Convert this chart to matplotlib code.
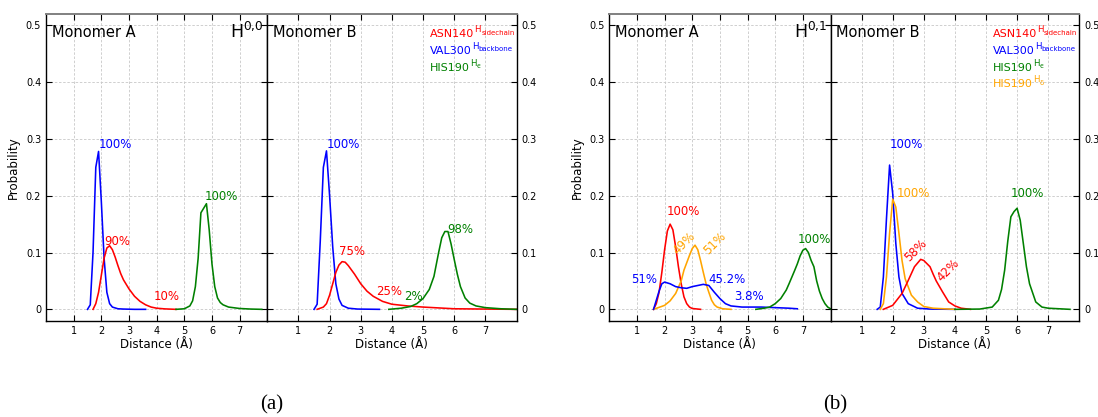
import matplotlib
matplotlib.use("Agg")
import matplotlib.pyplot as plt

# ---------------- data ----------------
# Panel (a) H^{0,0}, Monomer A
a_A_blue_x = [1.5, 1.6, 1.7, 1.8, 1.9, 2.0, 2.1, 2.2, 2.3, 2.4, 2.6, 2.8, 3.2, 3.6]
a_A_blue_y = [0.0, 0.008, 0.10, 0.25, 0.278, 0.19, 0.09, 0.03, 0.01, 0.004, 0.001, 0.0005, 0.0, 0.0]
a_A_red_x = [1.7, 1.8, 1.9, 2.0, 2.1, 2.2, 2.3, 2.4, 2.5, 2.6, 2.7, 2.8, 3.0, 3.2, 3.4, 3.6, 3.8, 4.0, 4.3, 4.7]
a_A_red_y = [0.0, 0.01, 0.03, 0.06, 0.09, 0.108, 0.112, 0.105, 0.092, 0.077, 0.063, 0.052, 0.036, 0.023, 0.014, 0.008, 0.004, 0.002, 0.0008, 0.0]
a_A_green_x = [4.7, 5.0, 5.2, 5.3, 5.4, 5.5, 5.6, 5.7, 5.8, 5.9, 6.0, 6.1, 6.2, 6.3, 6.4, 6.6, 7.0, 7.4, 7.8]
a_A_green_y = [0.0, 0.001, 0.006, 0.015, 0.04, 0.09, 0.17, 0.178, 0.186, 0.14, 0.08, 0.04, 0.02, 0.012, 0.008, 0.004, 0.0015, 0.0005, 0.0]

# Panel (a) H^{0,0}, Monomer B
a_B_blue_x = [1.5, 1.6, 1.7, 1.8, 1.9, 2.0, 2.1, 2.2, 2.3, 2.4, 2.6, 2.9, 3.6]
a_B_blue_y = [0.0, 0.009, 0.12, 0.25, 0.279, 0.2, 0.11, 0.045, 0.018, 0.007, 0.002, 0.0005, 0.0]
a_B_red_x = [1.6, 1.8, 1.9, 2.0, 2.1, 2.2, 2.3, 2.4, 2.5, 2.6, 2.8, 3.0, 3.2, 3.4, 3.7, 4.0, 4.5, 5.0, 6.0, 7.0, 8.0]
a_B_red_y = [0.0, 0.004, 0.01, 0.025, 0.045, 0.065, 0.078, 0.084, 0.083, 0.077, 0.062, 0.045, 0.032, 0.023, 0.014, 0.009, 0.006, 0.004, 0.001, 0.0005, 0.0]
a_B_green_x = [3.9, 4.3, 4.6, 4.8, 5.0, 5.2, 5.35, 5.5, 5.6, 5.7, 5.8, 5.9, 6.0, 6.1, 6.2, 6.35, 6.5, 6.7, 7.0, 7.5, 8.0]
a_B_green_y = [0.0, 0.002, 0.005, 0.01, 0.019, 0.035, 0.058, 0.1, 0.126, 0.137, 0.137, 0.115, 0.088, 0.062, 0.04, 0.02, 0.011, 0.006, 0.003, 0.001, 0.0]

# Panel (b) H^{0,1}, Monomer A
b_A_red_x = [1.6, 1.7, 1.8, 1.9, 2.0, 2.1, 2.2, 2.3, 2.4, 2.5, 2.6, 2.7, 2.8, 2.9, 3.0, 3.3]
b_A_red_y = [0.0, 0.01, 0.03, 0.065, 0.105, 0.138, 0.15, 0.14, 0.11, 0.075, 0.045, 0.022, 0.01, 0.004, 0.0015, 0.0]
b_A_orange_x = [1.6, 2.0, 2.2, 2.4, 2.6, 2.7, 2.8, 2.9, 3.0, 3.1, 3.2, 3.3, 3.4, 3.5, 3.6, 3.7, 3.8, 3.9, 4.1, 4.4]
b_A_orange_y = [0.0, 0.007, 0.015, 0.028, 0.05, 0.069, 0.082, 0.095, 0.107, 0.113, 0.105, 0.086, 0.065, 0.045, 0.03, 0.016, 0.008, 0.004, 0.001, 0.0]
b_A_blue_x = [1.6, 1.7, 1.8, 1.9, 2.0, 2.2, 2.4, 2.6, 2.8, 3.0, 3.2, 3.4, 3.6, 3.8, 4.0, 4.2, 4.4, 4.8, 5.5, 6.0, 6.5, 6.8]
b_A_blue_y = [0.0, 0.016, 0.032, 0.045, 0.048, 0.045, 0.04, 0.038, 0.037, 0.04, 0.042, 0.044, 0.042, 0.03, 0.019, 0.01, 0.006, 0.004, 0.004, 0.003, 0.002, 0.001]
b_A_green_x = [5.3, 5.6, 5.8, 6.0, 6.2, 6.4, 6.5, 6.7, 6.8, 6.9, 7.0, 7.1, 7.2, 7.3, 7.4, 7.5, 7.6, 7.7, 7.8, 7.9, 8.0]
b_A_green_y = [0.0, 0.002, 0.004, 0.01, 0.019, 0.034, 0.045, 0.068, 0.08, 0.094, 0.104, 0.107, 0.1, 0.086, 0.075, 0.05, 0.032, 0.019, 0.01, 0.004, 0.001]

# Panel (b) H^{0,1}, Monomer B
b_B_blue_x = [1.5, 1.6, 1.7, 1.8, 1.9, 2.0, 2.1, 2.2, 2.3, 2.5, 2.8, 3.2, 4.0]
b_B_blue_y = [0.0, 0.004, 0.057, 0.16, 0.254, 0.204, 0.116, 0.057, 0.028, 0.01, 0.002, 0.0005, 0.0]
b_B_orange_x = [1.6, 1.7, 1.8, 1.9, 2.0, 2.1, 2.2, 2.3, 2.4, 2.6, 2.8, 3.0, 3.3, 4.0]
b_B_orange_y = [0.0, 0.01, 0.057, 0.134, 0.194, 0.18, 0.134, 0.086, 0.054, 0.025, 0.013, 0.005, 0.002, 0.0]
b_B_red_x = [1.7, 2.0, 2.3, 2.5, 2.7, 2.9, 3.0, 3.2, 3.3, 3.4, 3.6, 3.8, 4.0, 4.2, 4.5]
b_B_red_y = [0.0, 0.007, 0.028, 0.051, 0.075, 0.088, 0.086, 0.075, 0.062, 0.05, 0.031, 0.013, 0.006, 0.002, 0.0]
b_B_green_x = [4.0, 4.8, 5.2, 5.4, 5.5, 5.6, 5.7, 5.8, 5.9, 6.0, 6.1, 6.2, 6.3, 6.4, 6.6, 6.8, 7.0, 7.7]
b_B_green_y = [0.0, 0.0005, 0.004, 0.016, 0.035, 0.069, 0.12, 0.163, 0.172, 0.178, 0.157, 0.116, 0.075, 0.045, 0.013, 0.004, 0.002, 0.0]

x_ticks = [1, 2, 3, 4, 5, 6, 7]
y_ticks = [0, 0.1, 0.2, 0.3, 0.4, 0.5]
y_tick_labels = ["0", "0.1", "0.2", "0.3", "0.4", "0.5"]

# legend entries: (residue, superscript atom, subscript, colour)
legend_a = [("ASN140", "H", "sidechain", "red"),
            ("VAL300", "H", "backbone", "blue"),
            ("HIS190", "H", "\u03f5", "green")]
legend_b = legend_a + [("HIS190", "H", "\u03b4", "orange")]

RED, BLUE, GREEN, ORANGE = "red", "blue", "green", "orange"

fig = plt.figure(figsize=(10.98, 4.17), dpi=100)

H = 417.0
W = 1098.0
bot = 1 - 320.7 / H
top = 1 - 14 / H
hgt = top - bot

def make_ax(x0, x1):
    ax = fig.add_axes([x0 / W, bot, (x1 - x0) / W, hgt])
    ax.set_xlim(0, 8)
    ax.set_ylim(-0.02, 0.52)
    ax.set_xticks(x_ticks)
    ax.set_xticklabels([str(t) for t in x_ticks], fontsize=7)
    ax.set_yticks(y_ticks)
    ax.grid(True, color="#c8c8c8", linestyle=(0, (3, 2)), linewidth=0.6)
    ax.set_axisbelow(True)
    ax.tick_params(axis="both", direction="in", length=4, width=0.8,
                   top=True, bottom=True, left=True, right=True, labelsize=7)
    ax.spines["top"].set_color("#808080")
    ax.spines["top"].set_linewidth(1.4)
    for s in ("left", "right", "bottom"):
        ax.spines[s].set_color("black")
        ax.spines[s].set_linewidth(1.0)
    ax.set_xlabel("Distance (Å)", fontsize=8.5, labelpad=2)
    return ax

def style_left(ax, label):
    ax.set_yticklabels(y_tick_labels, fontsize=7)
    ax.set_ylabel("Probability", fontsize=8.5, labelpad=4)
    ax.text(0.027, 0.965, "Monomer A", transform=ax.transAxes, fontsize=10.5,
            va="top", ha="left")
    ax.text(0.985, 0.975, label, transform=ax.transAxes, fontsize=12.5,
            va="top", ha="right")

def style_right(ax, legend):
    ax.yaxis.tick_right()
    ax.tick_params(axis="y", left=True, right=True, direction="in", labelleft=False,
                   labelright=True, labelsize=7)
    ax.set_yticklabels(y_tick_labels, fontsize=7)
    ax.text(0.024, 0.965, "Monomer B", transform=ax.transAxes, fontsize=10.5,
            va="top", ha="left")
    for i, (res, atom, sub, col) in enumerate(legend):
        y = 0.924 - i * 0.0545
        main = ax.text(0.653, y, res, transform=ax.transAxes, fontsize=8,
                       color=col, va="baseline", ha="left")
        sup = ax.annotate(atom, xy=(1, y), xycoords=(main, ax.transAxes),
                          xytext=(0.2, 3.6), textcoords="offset points",
                          fontsize=6.2, color=col, va="baseline", ha="left")
        ax.annotate(sub, xy=(1, y), xycoords=(sup, ax.transAxes),
                    xytext=(0.1, 1.9), textcoords="offset points",
                    fontsize=5.0, color=col, va="baseline", ha="left")

lw = 1.15

# ---- panel (a) ----
axA = make_ax(46.0, 267.3)
style_left(axA, r"H$^{\mathregular{0{,}0}}$")
axA.plot(a_A_blue_x, a_A_blue_y, color=BLUE, lw=lw)
axA.plot(a_A_red_x, a_A_red_y, color=RED, lw=lw)
axA.plot(a_A_green_x, a_A_green_y, color=GREEN, lw=lw)
axA.text(1.92, 0.279, "100%", color=BLUE, fontsize=8.5, va="bottom")
axA.text(2.1, 0.108, "90%", color=RED, fontsize=8.5, va="bottom")
axA.text(3.9, 0.011, "10%", color=RED, fontsize=8.5, va="bottom")
axA.text(5.72, 0.188, "100%", color=GREEN, fontsize=8.5, va="bottom")

axB = make_ax(267.3, 516.5)
style_right(axB, legend_a)
axB.plot(a_B_blue_x, a_B_blue_y, color=BLUE, lw=lw)
axB.plot(a_B_red_x, a_B_red_y, color=RED, lw=lw)
axB.plot(a_B_green_x, a_B_green_y, color=GREEN, lw=lw)
axB.text(1.91, 0.279, "100%", color=BLUE, fontsize=8.5, va="bottom")
axB.text(2.3, 0.09, "75%", color=RED, fontsize=8.5, va="bottom")
axB.text(3.48, 0.02, "25%", color=RED, fontsize=8.5, va="bottom")
axB.text(4.38, 0.012, "2%", color=GREEN, fontsize=8.5, va="bottom")
axB.text(5.79, 0.13, "98%", color=GREEN, fontsize=8.5, va="bottom")

# ---- panel (b) ----
axC = make_ax(609.3, 830.5)
style_left(axC, r"H$^{\mathregular{0{,}1}}$")
axC.plot(b_A_red_x, b_A_red_y, color=RED, lw=lw)
axC.plot(b_A_orange_x, b_A_orange_y, color=ORANGE, lw=lw)
axC.plot(b_A_blue_x, b_A_blue_y, color=BLUE, lw=lw)
axC.plot(b_A_green_x, b_A_green_y, color=GREEN, lw=lw)
axC.text(2.09, 0.16, "100%", color=RED, fontsize=8.5, va="bottom")
axC.text(2.72, 0.117, "49%", color=ORANGE, fontsize=8.5, va="center", ha="center", rotation=45)
axC.text(3.81, 0.117, "51%", color=ORANGE, fontsize=8.5, va="center", ha="center", rotation=45)
axC.text(0.8, 0.041, "51%", color=BLUE, fontsize=8.5, va="bottom")
axC.text(3.6, 0.041, "45.2%", color=BLUE, fontsize=8.5, va="bottom")
axC.text(4.5, 0.011, "3.8%", color=BLUE, fontsize=8.5, va="bottom")
axC.text(6.81, 0.111, "100%", color=GREEN, fontsize=8.5, va="bottom")

axD = make_ax(830.5, 1079.3)
style_right(axD, legend_b)
axD.plot(b_B_blue_x, b_B_blue_y, color=BLUE, lw=lw)
axD.plot(b_B_orange_x, b_B_orange_y, color=ORANGE, lw=lw)
axD.plot(b_B_red_x, b_B_red_y, color=RED, lw=lw)
axD.plot(b_B_green_x, b_B_green_y, color=GREEN, lw=lw)
axD.text(1.9, 0.279, "100%", color=BLUE, fontsize=8.5, va="bottom")
axD.text(2.12, 0.192, "100%", color=ORANGE, fontsize=8.5, va="bottom")
axD.text(2.75, 0.104, "58%", color=RED, fontsize=8.5, va="center", ha="center", rotation=45)
axD.text(3.79, 0.068, "42%", color=RED, fontsize=8.5, va="center", ha="center", rotation=45)
axD.text(5.8, 0.192, "100%", color=GREEN, fontsize=8.5, va="bottom")

# captions
fig.text(272 / W, 1 - 405 / H, "(a)", fontsize=15, family="Liberation Serif",
         ha="center", va="center")
fig.text(835 / W, 1 - 405 / H, "(b)", fontsize=15, family="Liberation Serif",
         ha="center", va="center")

fig.savefig("out.png", dpi=100)
